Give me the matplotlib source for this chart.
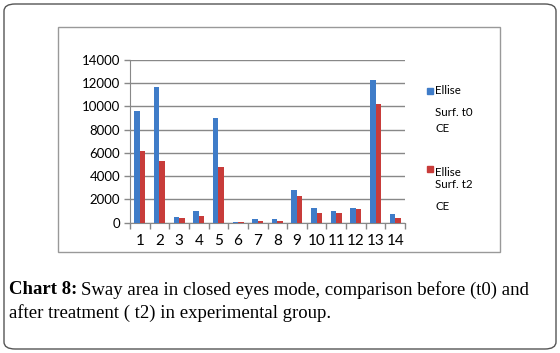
import numpy as np
import matplotlib
matplotlib.use('Agg')
import matplotlib.pyplot as plt
from matplotlib.patches import FancyBboxPatch, Rectangle

subjects = [str(i) for i in range(1, 15)]
surf_t0 = [9600, 11700, 490, 1030, 9000, 60, 310, 310, 2800, 1300, 1000, 1230, 12300, 740]
surf_t2 = [6200, 5270, 430, 570, 4780, 50, 175, 175, 2330, 800, 800, 1150, 10250, 430]
legend_lines = [['Ellise', 'Surf. t0', 'CE'], ['Ellise', 'Surf. t2', 'CE']]
y_ticks = [0, 2000, 4000, 6000, 8000, 10000, 12000, 14000]

BLUE = '#3f7cc8'
RED = '#c83c3a'
W, H = 560, 353

def fy(y):
    # pixel row from top -> figure fraction
    return (H - y) / H

fig = plt.figure(figsize=(W / 100, H / 100), dpi=100)

# outer rounded frame and inner chart frame
fig.patches.append(FancyBboxPatch((4 / W, fy(349)), 552 / W, 345 / H,
                                  boxstyle='round,pad=0,rounding_size=0.02',
                                  transform=fig.transFigure, fill=False,
                                  edgecolor='#555555', linewidth=1.0))
fig.patches.append(Rectangle((58 / W, fy(252)), 442 / W, 225 / H,
                             transform=fig.transFigure, fill=False,
                             edgecolor='#999999', linewidth=1.0))

ax = fig.add_axes([130 / W, fy(222.7), 275 / W, 162.7 / H])
x = np.arange(1, len(subjects) + 1)
bw = 0.28
ax.bar(x - bw / 2, surf_t0, bw, color=BLUE, zorder=3)
ax.bar(x + bw / 2, surf_t2, bw, color=RED, zorder=3)

ax.set_xlim(0.5, 14.5)
ax.set_ylim(0, 14000)
ax.set_yticks(y_ticks)
ax.set_yticklabels([str(v) for v in y_ticks], fontsize=9.5, family='Lato')
ax.set_xticks(x)
ax.set_xticklabels(subjects, fontsize=11, family='Lato')
ax.set_xticks(np.arange(0.5, 15, 1), minor=True)
ax.tick_params(axis='x', which='major', length=0, pad=8)
ax.tick_params(axis='x', which='minor', length=4, color='#888888', width=1)
ax.tick_params(axis='y', length=4, color='#888888', width=1, pad=3)
ax.yaxis.grid(True, color='#888888', linewidth=1, zorder=0)
for s in ['top', 'right']:
    ax.spines[s].set_visible(False)
ax.spines['left'].set_color('#888888')
ax.spines['bottom'].set_color('#888888')

# legend: colour squares with text lines laid out like the original
square_y = [88, 166]
line_y = [[91, 112, 128], [172, 185, 207]]
for col, sy, lines, ys in zip([BLUE, RED], square_y, legend_lines, line_y):
    fig.patches.append(Rectangle((427 / W, fy(sy + 5.5)), 5.5 / W, 5.5 / H,
                                 transform=fig.transFigure, color=col))
    for txt, yy in zip(lines, ys):
        fig.text(435 / W, fy(yy), txt, fontsize=8.3, family='Lato',
                 va='center', ha='left')

# caption with bold prefix
cap_size = 13.5
t0 = fig.text(9 / W, fy(290), 'Chart 8:', fontsize=cap_size,
              family='Liberation Serif', fontweight='bold', va='center')
fig.canvas.draw()
bb = t0.get_window_extent()
fig.text((bb.x1 + 4) / W, fy(290),
         'Sway area in closed eyes mode, comparison before (t0) and',
         fontsize=cap_size, family='Liberation Serif', va='center')
fig.text(9 / W, fy(313), 'after treatment ( t2) in experimental group.',
         fontsize=cap_size, family='Liberation Serif', va='center')

fig.savefig('out.png', dpi=100)
